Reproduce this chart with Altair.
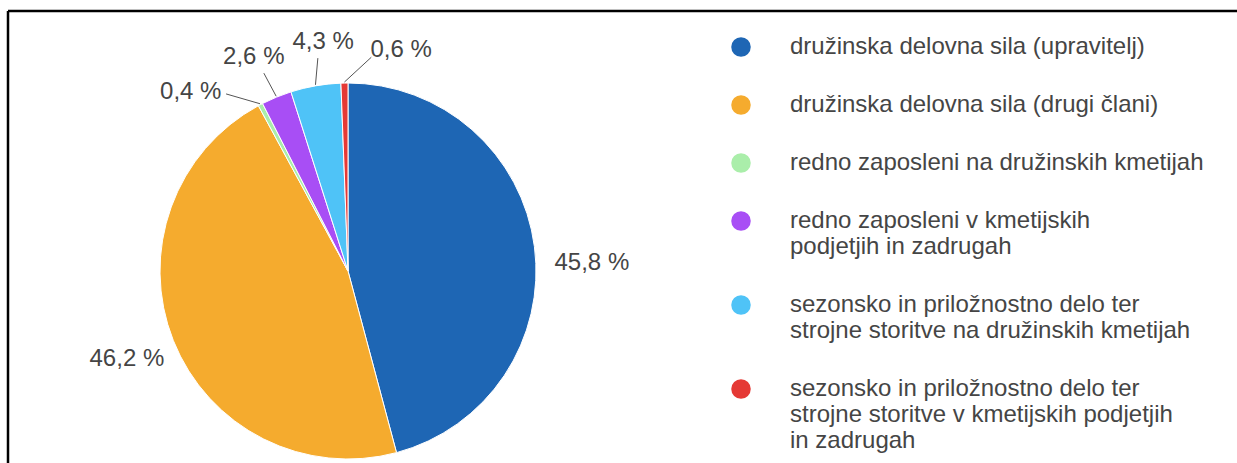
import altair as alt
import pandas as pd

# ---- data -------------------------------------------------------------
categories = [
    "družinska delovna sila (upravitelj)",
    "družinska delovna sila (drugi člani)",
    "redno zaposleni na družinskih kmetijah",
    "redno zaposleni v kmetijskih|podjetjih in zadrugah",
    "sezonsko in priložnostno delo ter|strojne storitve na družinskih kmetijah",
    "sezonsko in priložnostno delo ter|strojne storitve v kmetijskih podjetjih|in zadrugah",
]
shares = [45.8, 46.2, 0.4, 2.6, 4.3, 0.6]

# ---- style --------------------------------------------------------------
colors = ["#1e66b4", "#f5ab2e", "#aaeeaa", "#a84ef5", "#4fc3f7", "#e53935"]
label_nudge_deg = [5.6, 0.0, -13.6, -1.4, 3.7, 14.6]   # angular spread of outside labels
label_radius = [244, 238, 238, 234, 230, 227]          # distance of label centres

FONT = "Liberation Sans"
TEXT_COLOR = "#454545"
W, H = 1229, 452          # plot area (frame starts at page 8,11)
CX, CY = 340, 260         # pie centre inside plot area
R = 188                   # pie radius
R_LINE_END = 215

df = pd.DataFrame({
    "idx": list(range(len(categories))),
    "category": categories,
    "share": shares,
    "nudge": label_nudge_deg,
    "lr": label_radius,
})

xs = alt.Scale(domain=[-CX, W - CX], range=[0, W], nice=False, zero=False)
ys = alt.Scale(domain=[-CY, H - CY], range=[0, H], nice=False, zero=False)

base = alt.Chart(df)

geo = base.transform_joinaggregate(total="sum(share)").transform_window(
    cum="sum(share)", sort=[alt.SortField("idx")], frame=[None, 0]
).transform_calculate(
    mid="(datum.cum - datum.share / 2) / datum.total * 2 * PI",
    la="datum.mid + datum.nudge * PI / 180",
    lx="sin(datum.la) * datum.lr",
    ly="-cos(datum.la) * datum.lr",
    sx=f"sin(datum.mid) * {R + 1}",
    sy=f"-cos(datum.mid) * {R + 1}",
    ex=f"sin(datum.mid + datum.nudge * PI / 360) * {R_LINE_END}",
    ey=f"-cos(datum.mid + datum.nudge * PI / 360) * {R_LINE_END}",
    lbl="replace(format(datum.share, '.1f'), '.', ',') + ' %'",
)

pie = base.mark_arc(outerRadius=R, stroke="white", strokeWidth=1).encode(
    theta=alt.Theta("share:Q"),
    order=alt.Order("idx:Q"),
    color=alt.Color(
        "category:N",
        scale=alt.Scale(domain=categories, range=colors),
        legend=alt.Legend(
            orient="none",
            legendX=721,
            legendY=24,
            title=None,
            symbolType="circle",
            symbolSize=380,
            symbolStrokeWidth=0,
            symbolOpacity=1,
            labelFont=FONT,
            labelFontSize=24,
            labelColor=TEXT_COLOR,
            labelLimit=700,
            labelOffset=37,
            rowPadding=34,
            labelExpr="split(datum.label, '|')",
        ),
    ),
    x=alt.value(CX),
    y=alt.value(CY),
)

leaders = geo.transform_filter("datum.share < 5").mark_rule(
    color="#555555", strokeWidth=1
).encode(
    x=alt.X("sx:Q", scale=xs, axis=None),
    y=alt.Y("sy:Q", scale=ys, axis=None),
    x2="ex:Q",
    y2="ey:Q",
)

labels = geo.mark_text(
    font=FONT, fontSize=24, color=TEXT_COLOR, align="center", baseline="middle"
).encode(
    x=alt.X("lx:Q", scale=xs, axis=None),
    y=alt.Y("ly:Q", scale=ys, axis=None),
    text="lbl:N",
)

frame_data = alt.Data(values=[{"a": 1}])
frame_top = alt.Chart(frame_data).mark_rule(color="black", strokeWidth=2.5).encode(
    x=alt.value(0), x2=alt.value(W + 20), y=alt.value(0)
)
frame_left = alt.Chart(frame_data).mark_rule(color="black", strokeWidth=2.5).encode(
    x=alt.value(0), y=alt.value(0), y2=alt.value(H + 20)
)

chart = alt.layer(pie, leaders, labels, frame_top, frame_left).properties(
    width=W,
    height=H,
    padding={"left": 8, "top": 11, "right": 0, "bottom": 0},
    autosize=alt.AutoSizeParams(type="none"),
    background="white",
).configure_view(stroke=None)

chart.save("out.html", embed_options={"renderer": "svg", "actions": False})
